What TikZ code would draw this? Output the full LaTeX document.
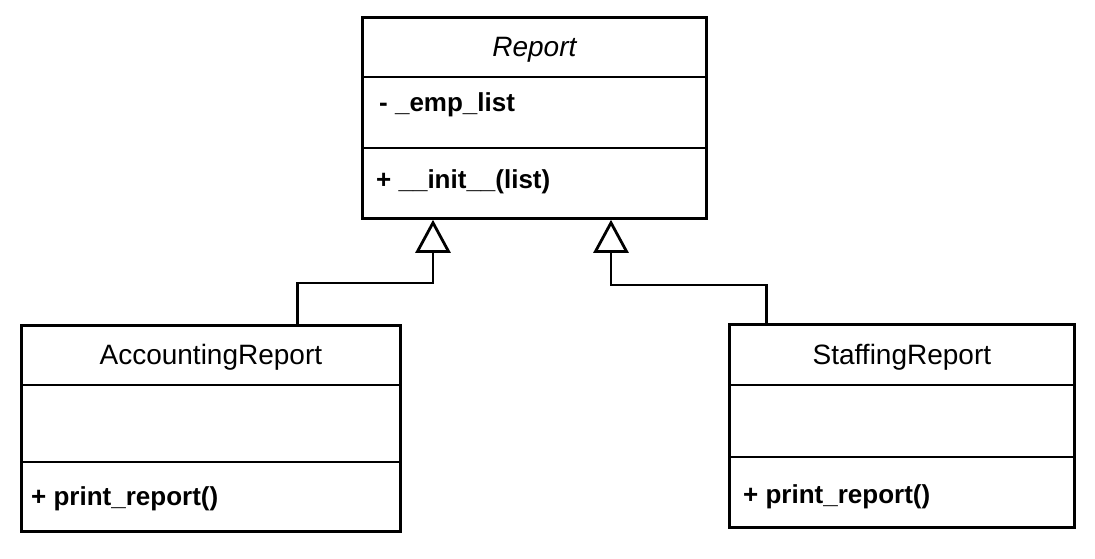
\documentclass[tikz,border=0pt]{standalone}
\usepackage{fontspec}
\setmainfont{Liberation Sans}
\usetikzlibrary{arrows.meta,calc}
\begin{document}
\begin{tikzpicture}[x=1pt,y=-1pt,
  cls/.style={draw, line width=2.8pt, inner sep=0pt, anchor=north west},
  divline/.style={line width=2.8pt},
  ttl/.style={inner sep=0pt, anchor=base, font=\fontsize{28}{32}\selectfont},
  mem/.style={inner sep=0pt, anchor=base west, font=\fontsize{26}{30}\selectfont\bfseries},
  inh/.style={line width=2.8pt, -{Triangle[open, length=33pt, width=35pt, line width=2.8pt]}}
]
\useasboundingbox (0,0) rectangle (1095,559);

% Report
\node[cls, minimum width=344pt, minimum height=201pt] (rep) at (361,16) {};
\draw[divline] ($(rep.north west)+(1.4,61)$) -- ($(rep.north east)+(-1.4,61)$);
\draw[divline] ($(rep.north west)+(1.4,132)$) -- ($(rep.north east)+(-1.4,132)$);
\node[ttl] (repT) at ($(rep.north)+(0,41)$) {\itshape Report};
\node[mem] (repA) at ($(rep.north west)+(18,96)$) {- \_emp\_list};
\node[mem] (repM) at ($(rep.north west)+(15,172)$) {+ \_\_init\_\_(list)};

% AccountingReport
\node[cls, minimum width=379pt, minimum height=206pt] (acc) at (20,324) {};
\draw[divline] ($(acc.north west)+(1.4,61)$) -- ($(acc.north east)+(-1.4,61)$);
\draw[divline] ($(acc.north west)+(1.4,138)$) -- ($(acc.north east)+(-1.4,138)$);
\node[ttl] (accT) at ($(acc.north)+(0,40)$) {AccountingReport};
\node[mem] (accM) at ($(acc.north west)+(11,181)$) {+ print\_report()};

% StaffingReport
\node[cls, minimum width=345pt, minimum height=203pt] (stf) at (728,323) {};
\draw[divline] ($(stf.north west)+(1.4,62)$) -- ($(stf.north east)+(-1.4,62)$);
\draw[divline] ($(stf.north west)+(1.4,134)$) -- ($(stf.north east)+(-1.4,134)$);
\node[ttl] (stfT) at ($(stf.north)+(0,41)$) {StaffingReport};
\node[mem] (stfM) at ($(stf.north west)+(15,180)$) {+ print\_report()};

% inheritance connectors
\coordinate (b1) at (433,283);
\coordinate (b2) at (611,285);
\draw[inh] ([xshift=86.5pt]acc.north) |- (b1) -- (rep.south -| b1);
\draw[inh] ([xshift=-135.5pt]stf.north) |- (b2) -- (rep.south -| b2);
\end{tikzpicture}
\end{document}
